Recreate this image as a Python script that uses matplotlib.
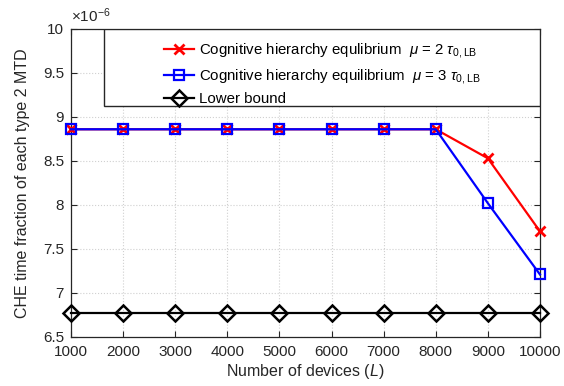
import numpy as np
import matplotlib
matplotlib.use("Agg")
import matplotlib.pyplot as plt
from matplotlib.patches import Rectangle

plt.rcParams['font.family'] = ['Liberation Sans', 'DejaVu Sans']
plt.rcParams['mathtext.fontset'] = 'custom'
plt.rcParams['mathtext.rm'] = 'Liberation Sans'
plt.rcParams['mathtext.it'] = 'Liberation Sans:italic'

# data (values in units of 1e-6)
devices = [1000, 2000, 3000, 4000, 5000, 6000, 7000, 8000, 9000, 10000]
che_mu2 = [8.86, 8.86, 8.86, 8.86, 8.86, 8.86, 8.86, 8.86, 8.53, 7.70]
che_mu3 = [8.86, 8.86, 8.86, 8.86, 8.86, 8.86, 8.86, 8.86, 8.02, 7.21]
lower_bound = [6.77] * 10

fig = plt.figure(figsize=(5.64, 3.86), dpi=100)
ax = fig.add_axes([0.1259, 0.127, 0.8315, 0.798])

l1, = ax.plot(devices, che_mu2, color='red', marker='x', lw=1.6, ms=7.5, mew=2,
              clip_on=False, zorder=4,
              label=r'Cognitive hierarchy equlibrium  $\mu$ = 2 $\tau_{0,\mathrm{LB}}$')
l2, = ax.plot(devices, che_mu3, color='blue', marker='s', lw=1.6, ms=7, mew=1.6,
              mfc='none', clip_on=False, zorder=4,
              label=r'Cognitive hierarchy equilibrium  $\mu$ = 3 $\tau_{0,\mathrm{LB}}$')
l3, = ax.plot(devices, lower_bound, color='black', marker='D', lw=1.6, ms=8, mew=1.8,
              mfc='none', clip_on=False, zorder=4, label='Lower bound')

ax.set_xlim(1000, 10000)
ax.set_ylim(6.5, 10)
ax.set_xticks(devices)
ax.set_yticks([6.5, 7, 7.5, 8, 8.5, 9, 9.5, 10])
ax.set_yticklabels(['6.5', '7', '7.5', '8', '8.5', '9', '9.5', '10'])
ax.tick_params(direction='in', top=True, right=True, labelsize=11, colors='#262626',
               length=4)
ax.tick_params(axis='x', pad=6)
ax.tick_params(axis='y', pad=5)
for s in ax.spines.values():
    s.set_color('#262626')
    s.set_linewidth(0.9)
ax.grid(True, linestyle=':', color='#d0d0d0', linewidth=0.8)
ax.set_axisbelow(True)

ax.set_xlabel(r'Number of devices ($L$)', fontsize=11.5, color='#262626', labelpad=2)
ax.set_ylabel('CHE time fraction of each type 2 MTD', fontsize=11.5, color='#262626',
              labelpad=9)
ax.text(0.0, 1.012, r'$\times 10^{-6}$', transform=ax.transAxes, fontsize=11,
        color='#262626', ha='left', va='bottom')

# legend box
ax.add_patch(Rectangle((0.07, 0.75), 0.93, 0.25, transform=ax.transAxes,
                       facecolor='white', edgecolor='#262626', lw=1.0, zorder=5))
leg = ax.legend(handles=[l1, l2, l3], loc='upper left', bbox_to_anchor=(0.17, 1.005),
                frameon=False, fontsize=10.8, handlelength=2.0, handletextpad=0.3,
                labelspacing=0.45)
leg.set_zorder(6)

fig.savefig('out.png', dpi=100)
